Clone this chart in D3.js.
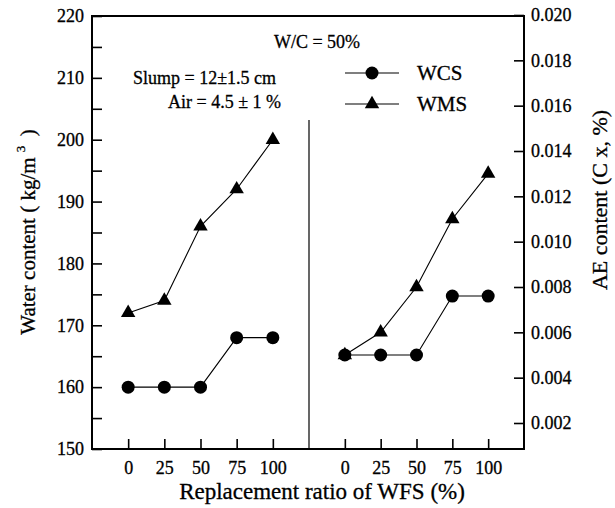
<!DOCTYPE html>
<html>
<head>
<meta charset="utf-8">
<script src="https://cdn.jsdelivr.net/npm/d3@7/dist/d3.min.js"></script>
<style>
  html, body { margin: 0; padding: 0; background: #fff; }
  svg { display: block; font-family: "Liberation Serif", "Times New Roman", serif; }
  svg text { font-family: "Liberation Serif", "Times New Roman", serif; fill: #000; stroke: #000; stroke-width: 0.3px; }
</style>
</head>
<body>
<svg id="chart" width="615" height="508"></svg>
<script>
// ---- data ----
const ratios = [0, 25, 50, 75, 100];
const wcsWater = [160, 160, 160, 168, 168];
const wmsWater = [172, 174, 186, 192, 200];
const wcsAE = [0.005, 0.005, 0.005, 0.0076, 0.0076];
const wmsAE = [0.005, 0.006, 0.008, 0.011, 0.013];
const leftTicks = [150, 155, 160, 165, 170, 175, 180, 185, 190, 195, 200, 205, 210, 215, 220];
const rightTicks = [0.002, 0.004, 0.006, 0.008, 0.010, 0.012, 0.014, 0.016, 0.018, 0.020];
const seriesNames = ["WCS", "WMS"];

// ---- layout ----
const L = 92, R = 524, T = 16, B = 449, MID = 309;
const svg = d3.select("#chart");

const xLeft = d3.scaleLinear().domain([-25, 125]).range([L, MID]);
const xRight = d3.scaleLinear().domain([-25, 125]).range([MID, R]);
const yLeft = d3.scaleLinear().domain([150, 220]).range([B, T]);
const yRight = d3.scaleLinear().domain([0.002, 0.020]).range([423, 15]);

// frame
svg.append("rect").attr("x", L).attr("y", T).attr("width", R - L).attr("height", B - T)
  .attr("fill", "none").attr("stroke", "#000").attr("stroke-width", 2);
// divider
svg.append("line").attr("x1", MID).attr("x2", MID).attr("y1", 120).attr("y2", B)
  .attr("stroke", "#000").attr("stroke-width", 1.2);

function styleAxis(g, fs) {
  g.attr("font-family", null);
  g.select(".domain").remove();
  g.selectAll(".tick line").attr("stroke", "#000").attr("stroke-width", 1.6);
  g.selectAll(".tick text").style("font-size", fs + "px");
}

// left axis
svg.append("g").attr("transform", `translate(${L},0)`)
  .call(d3.axisLeft(yLeft).tickValues(leftTicks).tickSize(-10).tickPadding(8)
    .tickFormat(d => d % 10 === 0 ? d : ""))
  .call(g => styleAxis(g, 18));

// right axis
svg.append("g").attr("transform", `translate(${R},0)`)
  .call(d3.axisRight(yRight).tickValues(rightTicks).tickSize(-10).tickPadding(7)
    .tickFormat(d3.format(".3f")))
  .call(g => styleAxis(g, 18));

// bottom axes
[xLeft, xRight].forEach(x => {
  svg.append("g").attr("transform", `translate(0,${B})`)
    .call(d3.axisBottom(x).tickValues(ratios).tickSize(-10).tickPadding(12))
    .call(g => styleAxis(g, 18));
});

// series
const line = (x, y) => d3.line().x((d, i) => x(ratios[i])).y(d => y(d));
const tri = d3.symbol().type(d3.symbolTriangle).size(90);

function drawSeries(vals, x, y, marker) {
  svg.append("path").datum(vals).attr("d", line(x, y))
    .attr("fill", "none").attr("stroke", "#000").attr("stroke-width", 1.1);
  if (marker === "circle") {
    svg.selectAll(null).data(vals).enter().append("circle")
      .attr("cx", (d, i) => x(ratios[i])).attr("cy", d => y(d)).attr("r", 6.5).attr("fill", "#000");
  } else {
    svg.selectAll(null).data(vals).enter().append("path")
      .attr("d", tri).attr("transform", (d, i) => `translate(${x(ratios[i])},${y(d)})`).attr("fill", "#000");
  }
}
drawSeries(wcsWater, xLeft, yLeft, "circle");
drawSeries(wmsWater, xLeft, yLeft, "triangle");
drawSeries(wcsAE, xRight, yRight, "circle");
drawSeries(wmsAE, xRight, yRight, "triangle");

// legend
const legY = [73, 104];
seriesNames.forEach((name, i) => {
  const g = svg.append("g");
  g.append("line").attr("x1", 345).attr("x2", 399).attr("y1", legY[i]).attr("y2", legY[i])
    .attr("stroke", "#000").attr("stroke-width", 1.1);
  if (i === 0) g.append("circle").attr("cx", 372).attr("cy", legY[i]).attr("r", 6.5).attr("fill", "#000");
  else g.append("path").attr("d", tri).attr("transform", `translate(372,${legY[i]})`).attr("fill", "#000");
  g.append("text").attr("x", 417).attr("y", legY[i] + 7).style("font-size", "21px").text(name);
});

// annotations
svg.append("text").attr("x", 317).attr("y", 48).attr("text-anchor", "middle")
  .style("font-size", "18px").text("W/C = 50%");
svg.append("text").attr("x", 133).attr("y", 84).style("font-size", "18px").text("Slump = 12±1.5 cm");
svg.append("text").attr("x", 168).attr("y", 108).style("font-size", "18px").text("Air = 4.5 ± 1 %");

// axis titles
svg.append("text").attr("x", 322).attr("y", 499).attr("text-anchor", "middle")
  .style("font-size", "23px").text("Replacement ratio of WFS (%)");

const yt = svg.append("text").attr("transform", "translate(35,232) rotate(-90)")
  .attr("text-anchor", "middle").style("font-size", "21px");
yt.append("tspan").text("Water content ( kg/m");
yt.append("tspan").attr("dy", -10).style("font-size", "13px").text("\u2009\u20093");
yt.append("tspan").attr("dy", 10).text("\u2009 )");

svg.append("text").attr("transform", "translate(607,200) rotate(-90)")
  .attr("text-anchor", "middle").style("font-size", "22px").text("AE content (C x, %)");
</script>
</body>
</html>
